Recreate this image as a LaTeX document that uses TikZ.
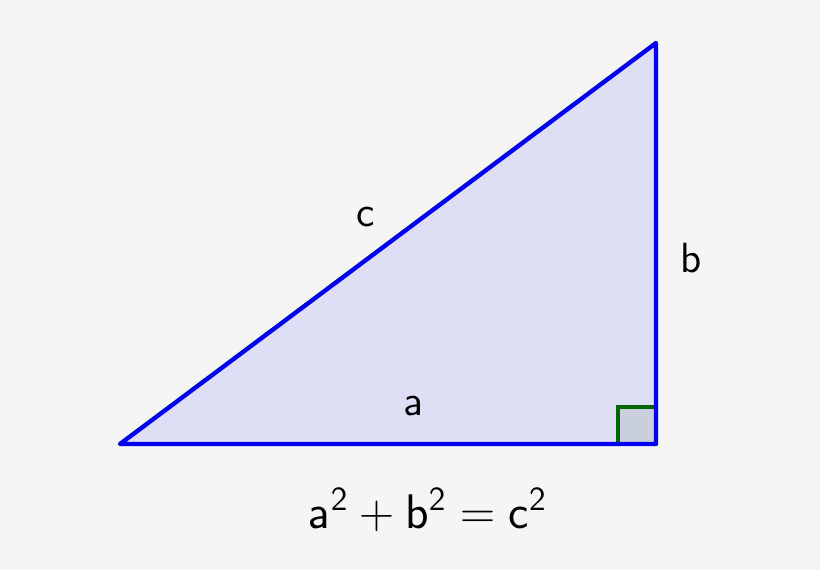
\documentclass[tikz,border=0pt]{standalone}
\usepackage{amsmath,amssymb}
\usepackage{tikz}
\usetikzlibrary{positioning,calc}
\definecolor{bgcol}{HTML}{F5F5F5}
\definecolor{legcol}{HTML}{0000EE}
\definecolor{fillcol}{HTML}{DEDEF5}
\definecolor{sqcol}{HTML}{C9D0DC}
\definecolor{sqline}{HTML}{006400}
\tikzset{
    side/.style={draw=legcol, line width=1.55pt, line join=round, line cap=round},
    lbl/.style={font=\fontsize{15}{18}\selectfont\sffamily, inner sep=0pt}
}
\begin{document}
\begin{tikzpicture}[x=0.0125cm,y=-0.0125cm]
    \fill[bgcol] (0,0) rectangle (820,570);
    \useasboundingbox (0,0) rectangle (820,570);
    \coordinate (A) at (120,444);
    \coordinate (B) at (656,444);
    \coordinate (C) at (656,43);
    \coordinate (R) at (618,407);
    \fill[fillcol] (A) -- (B) -- (C) -- cycle;
    \filldraw[fill=sqcol, draw=sqline, line width=1.1pt] (B) -- (R -| B) -- (R) -- (R |- B);
    \draw[side] (A) -- (B) -- (C) -- cycle;
    \node[lbl] (c) at (366,217) {c};
    \node[lbl] (b) at (691,258) {b};
    \node[lbl] (a) at (413,406) {a};
    \node[inner sep=0pt] (eq) at (428,510) {\fontsize{18}{22}\selectfont $\mathsf{a}^{\mathsf{2}}+\mathsf{b}^{\mathsf{2}}=\mathsf{c}^{\mathsf{2}}$};
\end{tikzpicture}
\end{document}
